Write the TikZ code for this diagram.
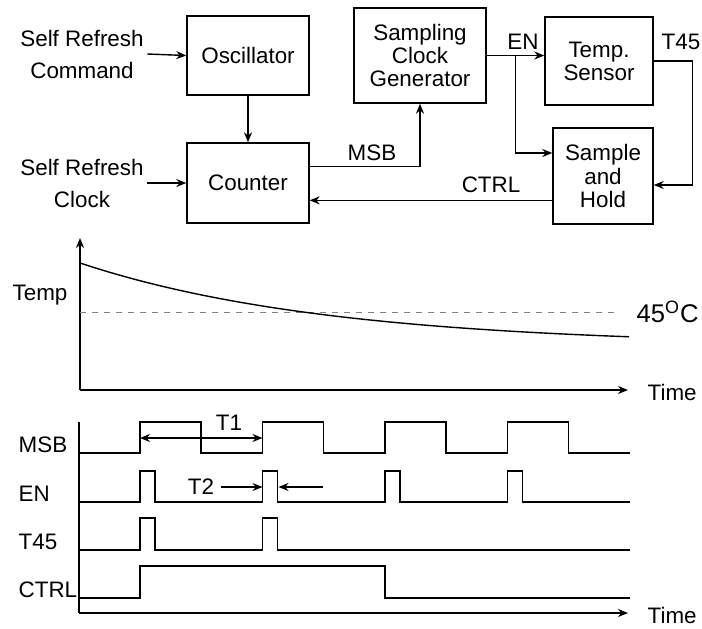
\documentclass[tikz,border=0pt]{standalone}
\usepackage{fontspec}
\setmainfont{Liberation Sans}
\usetikzlibrary{calc, arrows.meta}

\begin{document}
\begin{tikzpicture}[x=0.5pt, y=-0.5pt, line width=0.7pt,
  >={Stealth[length=5pt, width=4pt]},
  font=\fontsize{11.2}{11.6}\selectfont,
  blk/.style={draw, align=center, inner sep=0pt},
  inlbl/.style={align=center, inner sep=1.5pt, font=\fontsize{11.2}{16}\selectfont},
  siglbl/.style={anchor=west, inner sep=0pt}]

  \useasboundingbox (0,0) rectangle (702,628);

  % 方框
  \node[blk, minimum width=61pt, minimum height=39.5pt] (osc) at (248,55.5) {Oscillator};
  \node[blk, minimum width=61pt, minimum height=40pt] (cnt) at (248,183) {Counter};
  \node[blk, minimum width=66pt, minimum height=47.5pt] (scg) at (420,55.5) {Sampling\\Clock\\Generator};
  \node[blk, minimum width=54pt, minimum height=44pt] (sens) at (599,61) {Temp.\\Sensor};
  \node[blk, minimum width=50pt, minimum height=48pt] (sh) at (603,176) {Sample\\and\\Hold};

  % 输入
  \node[inlbl] (cmd) at (82,54) {Self Refresh\\Command};
  \node[inlbl] (clk) at (82,183) {Self Refresh\\Clock};

  % 连线
  \draw[->] (cmd.east) -- (osc.west);
  \draw[->] (clk.east) -- (cnt.west);
  \draw[->] (osc.south) -- (cnt.north);
  \coordinate (msb) at ($(cnt.north east)!0.3!(cnt.south east)$);
  \draw[->] (msb) -| (scg.south);
  \draw[->] (scg.east) -- (scg.east -| sens.west);
  \coordinate (en) at ($(scg.east)!0.5!(scg.east -| sens.west)$);
  \draw[->] (en) |- ([yshift=11.5pt]sh.west);
  \draw[->] (sens.east) -- ++(39,0) |- ([yshift=-4.5pt]sh.east);
  \coordinate (ctrl) at ($(sh.north west)!0.75!(sh.south west)$);
  \draw[->] (ctrl) -- (ctrl -| cnt.east);

  % 线上标签
  \node (lmsb) at (372,153) {MSB};
  \node (lctrl) at (491,185) {CTRL};
  \node (len) at (523,42) {EN};
  \node (lt45) at (681,42) {T45};

  % 温度曲线
  \coordinate (o1) at (80,390);
  \draw[->] (o1) -- (80,238);
  \draw[->] (o1) -- (628,390);
  \draw[gray, dashed, line width=0.4pt] (80,312) -- (620,312);
  \draw[domain=80:629, samples=60, smooth] plot (\x, {263+83*(1-exp(-(\x-80)/250))});
  \node (ltemp) at (40,295) {Temp};
  \node[anchor=base west, inner sep=0pt, font=\fontsize{12.8}{14}\selectfont] (l45) at (636,322) {45\textsuperscript{O}C};
  \node[siglbl] (ltime1) at (647,392) {Time};

  % 时序图
  \coordinate (o2) at (79,613);
  \draw (79,422) -- (o2);
  \draw[->] (o2) -- (628,613);
  \draw (79,453) foreach \t in {140,262.5,385,507.5} {
    -- (\t,453) -- (\t,422) -- ({\t+61},422) -- ({\t+61},453)} -- (630,453);
  \draw (79,502) foreach \t in {140,262.5,385,507.5} {
    -- (\t,502) -- (\t,471) -- ({\t+15},471) -- ({\t+15},502)} -- (630,502);
  \draw (79,550) foreach \t in {140,262.5} {
    -- (\t,550) -- (\t,518) -- ({\t+15},518) -- ({\t+15},550)} -- (630,550);
  \draw (79,598) -- (140,598) -- (140,566) -- (385,566) -- (385,598) -- (630,598);

  % T1, T2
  \draw[<->] (140,438) -- (262.5,438);
  \node (lt1) at (229,423) {T1};
  \node (lt2) at (201,487) {T2};
  \draw[->] (lt2.east) -- (262.5,487);
  \draw[->] (323,487) -- (278.5,487);

  % 标签
  \node[siglbl] (smsb) at (18,445) {MSB};
  \node[siglbl] (sen) at (18,494) {EN};
  \node[siglbl] (st45) at (18,542) {T45};
  \node[siglbl] (sctrl) at (18,590) {CTRL};
  \node[siglbl] (ltime2) at (647,615) {Time};
\end{tikzpicture}
\end{document}
